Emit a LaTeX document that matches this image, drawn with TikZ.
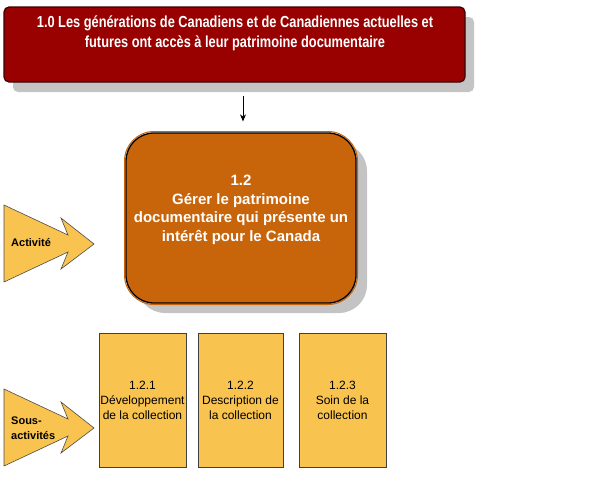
\documentclass[tikz,border=0pt]{standalone}
\usepackage{fontspec}
\setmainfont{Liberation Sans}
\newfontfamily\narrowfont[FakeStretch=0.8]{Liberation Sans}
\usetikzlibrary{arrows.meta}
\definecolor{goalred}{HTML}{990000}
\definecolor{goalborder}{HTML}{3A0000}
\definecolor{actorange}{HTML}{C8640A}
\definecolor{subyellow}{HTML}{F9C34F}
\definecolor{shadowgray}{HTML}{C4C4C4}
\tikzset{
  goalbox/.style={draw=goalborder, line width=1.2pt, fill=goalred, rounded corners=5pt, minimum width=461pt, minimum height=75pt, inner sep=0pt},
  actbox/.style={draw=black, line width=1.3pt, fill=actorange, rounded corners=28pt, minimum width=230pt, minimum height=170pt, inner sep=0pt},
  subbox/.style={draw=black!75, line width=0.6pt, fill=subyellow, minimum height=134pt, inner sep=0pt, align=center, font=\fontsize{12}{15}\selectfont},
  chevron/.style={draw=black!70, line width=0.6pt, fill=subyellow},
  chevtext/.style={anchor=west, align=left, font=\fontsize{11}{15}\selectfont\bfseries, inner sep=0pt},
  whitetext/.style={text=white, align=center, inner sep=0pt}
}
\begin{document}
\begin{tikzpicture}[x=1pt,y=-1pt]
\useasboundingbox (0,0) rectangle (591,480);
% shadows
\fill[shadowgray, rounded corners=5pt] (13,17) rectangle (474,92);
\fill[shadowgray, rounded corners=28pt] (137,143) rectangle (367,313);
% goal box
\node[goalbox] (goal) at (234.5,44.5) {};
\node[whitetext, font=\fontsize{16}{20}\selectfont\narrowfont\bfseries] (goaltext) at (235,33)
  {1.0 Les générations de Canadiens et de Canadiennes actuelles et\\futures ont accès à leur patrimoine documentaire};
% activity box
\draw[actorange, line width=1pt, rounded corners=29.5pt] (124.5,131.5) rectangle (357.5,304.5);
\node[actbox] (act) at (241,218) {};
\node[whitetext, font=\fontsize{15}{18.5}\selectfont\bfseries] (acttext) at (241,210)
  {1.2\\Gérer le patrimoine\\documentaire qui présente un\\intérêt pour le Canada};
% connector
\coordinate (ax) at (243,0);
\draw[line width=0.8pt, -{Stealth[length=7pt,width=6pt]}] ([yshift=-13pt]goal.south -| ax) -- ([yshift=11pt]act.north -| ax);
% sub-activity boxes
\node[subbox, minimum width=87pt] (s1) at (142.5,400) {1.2.1\\Développement\\de la collection};
\node[subbox, minimum width=85pt] (s2) at (240.5,400) {1.2.2\\Description de\\la collection};
\node[subbox, minimum width=87pt] (s3) at (342.5,400) {1.2.3\\Soin de la\\collection};
% chevrons
\draw[chevron] (4,205) -- (68,235) -- (61,218) -- (94,244) -- (61,269) -- (68,252) -- (4,282) -- cycle;
\node[chevtext] (activite) at (11,243) {Activité};
\draw[chevron] (4,389) -- (68,419) -- (61,402) -- (94,428) -- (61,453) -- (68,436) -- (4,466) -- cycle;
\node[chevtext] (sousact) at (11,428) {Sous-\\activités};
\end{tikzpicture}
\end{document}
